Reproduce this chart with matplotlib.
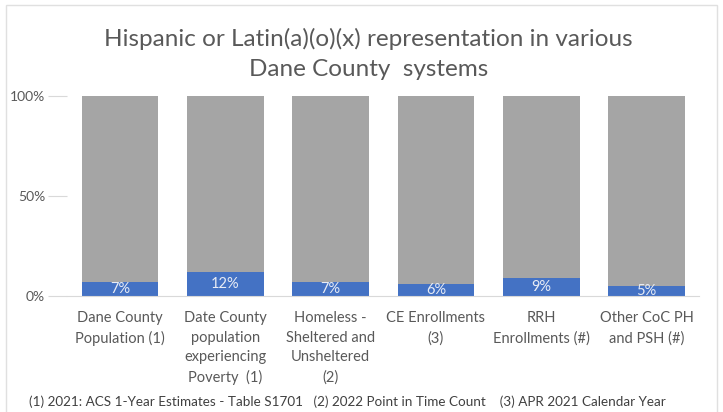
import matplotlib.pyplot as plt
import numpy as np
from matplotlib.ticker import FuncFormatter

plt.rcParams['font.family'] = ['Lato', 'DejaVu Sans']

categories = ['Dane County\nPopulation (1)',
              'Date County\npopulation\nexperiencing\nPoverty  (1)',
              'Homeless -\nSheltered and\nUnsheltered\n(2)',
              'CE Enrollments\n(3)',
              'RRH\nEnrollments (#)',
              'Other CoC PH\nand PSH (#)']
hispanic = [7, 12, 7, 6, 9, 5]
other = [100 - v for v in hispanic]

blue = '#4472C4'
gray = '#A5A5A5'
text_gray = '#595959'

fig = plt.figure(figsize=(7.23, 4.12), dpi=100)
ax = fig.add_axes([0.0932, 0.2816, 0.874, 0.4854])

x = np.arange(len(categories))
ax.bar(x, hispanic, width=0.73, color=blue, zorder=2)
ax.bar(x, other, width=0.73, bottom=hispanic, color=gray, zorder=2)

for xi, v in zip(x, hispanic):
    ax.text(xi, v / 2, f'{v}%', ha='center', va='center', color='#E8ECF5',
            fontsize=10.5, zorder=3)

ax.set_xlim(-0.5, 5.5)
ax.set_ylim(0, 100)
ax.set_yticks([0, 50, 100])
ax.yaxis.set_major_formatter(FuncFormatter(lambda v, p: f'{int(v)}%'))
ax.tick_params(axis='y', colors='#D9D9D9', labelcolor=text_gray, labelsize=10,
               length=14, direction='out', pad=2)
ax.set_xticks(x)
ax.set_xticklabels(categories, color=text_gray, fontsize=10.5, linespacing=1.5,
                   va='top')
ax.tick_params(axis='x', length=0, pad=11)
for s in ['top', 'right', 'left']:
    ax.spines[s].set_visible(False)
ax.spines['bottom'].set_color('#D9D9D9')

fig.text(0.51, 0.869, 'Hispanic or Latin(a)(o)(x) representation in various\nDane County  systems',
         ha='center', va='center', fontsize=17.5, color=text_gray, linespacing=1.5)

fig.text(0.04, 0.024, '(1) 2021: ACS 1-Year Estimates - Table S1701   (2) 2022 Point in Time Count    (3) APR 2021 Calendar Year',
         ha='left', va='center', fontsize=9.7, color='#404040')

# light chart border
fig.add_artist(plt.Rectangle((0.008, -0.01), 0.984, 0.998, transform=fig.transFigure,
                             fill=False, edgecolor='#E0E0E0', linewidth=1))

fig.savefig('out.png', dpi=100)
